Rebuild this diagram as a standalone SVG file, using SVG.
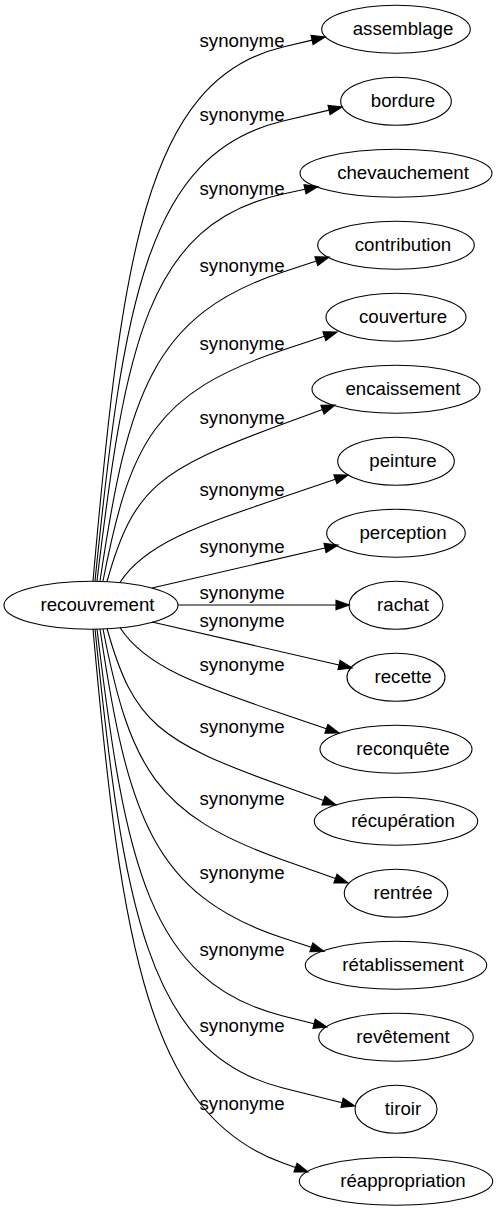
<svg xmlns="http://www.w3.org/2000/svg" width="496" height="1211" viewBox="0 0 496 1211">
<style>
.n ellipse{fill:none;stroke:#000;stroke-width:1.1}
.n text{font-family:"Liberation Sans",Arial,sans-serif;font-size:18.67px;fill:#000;text-anchor:middle}
#edges path{fill:none;stroke:#000;stroke-width:1.1}
#edges polygon{fill:#000;stroke:#000;stroke-width:1.1}
#edges text{font-family:"Liberation Sans",Arial,sans-serif;font-size:18.67px;fill:#000;text-anchor:middle}
</style>
<rect width="496" height="1211" fill="#fff"/>
<g id="edges">
<path d="M93,581 C121.5,260.6 144.3,80.1 283,47 L312.1,40.1"/><polygon points="325,37 313.1,44.6 311,35.5"/><text x="242" y="46.5">synonyme</text>
<path d="M95,581 C123.2,305 145.8,153.6 283,121 L329.1,110.1"/><polygon points="342,107 330.1,114.6 328,105.5"/><text x="242" y="121">synonyme</text>
<path d="M97,581 C124.9,348.8 146.6,223.2 283,194 L305,189.3"/><polygon points="318,186.5 306,193.9 304,184.7"/><text x="242" y="194.5">synonyme</text>
<path d="M100,581 C127.5,395.6 152.5,314.5 283,272 L316.4,261.1"/><polygon points="329,257 317.8,265.6 314.9,256.7"/><text x="242" y="272">synonyme</text>
<path d="M103,581 C130,442.4 154.9,392.7 283,350 L324.4,336.2"/><polygon points="337,332 325.9,340.6 322.9,331.8"/><text x="242" y="350">synonyme</text>
<path d="M107,581.5 C133.4,487 159,469.3 283,424 L322.5,409.6"/><polygon points="335,405 324.1,414 320.9,405.2"/><text x="242" y="424">synonyme</text>
<path d="M120,582.5 C144.5,544 198.1,525.8 283,497 L335.4,479.3"/><polygon points="348,475 336.9,483.7 333.9,474.9"/><text x="242" y="496">synonyme</text>
<path d="M152,588 L325,548"/><polygon points="338,545 326.1,552.5 324,543.4"/><text x="242" y="553">synonyme</text>
<path d="M178,605 L336,605"/><polygon points="349.3,605 336,609.7 336,600.3"/><text x="242" y="599">synonyme</text>
<path d="M152,622 L339,665"/><polygon points="352,668 338,669.6 340.1,660.5"/><text x="242" y="627">synonyme</text>
<path d="M120,627.5 C144.5,666.4 198.1,685.2 283,714 L326.4,728.7"/><polygon points="339,733 324.9,733.2 327.9,724.3"/><text x="242" y="671">synonyme</text>
<path d="M107,628.5 C133.4,723 158.8,741.5 283,786 L323.5,800.5"/><polygon points="336,805 321.9,804.9 325.1,796.1"/><text x="242" y="733">synonyme</text>
<path d="M103,629 C130,767.6 155.7,814.9 283,860 L335.5,878.6"/><polygon points="348,883 333.9,883 337,874.2"/><text x="242" y="805">synonyme</text>
<path d="M100,629 C127.5,814.4 152.6,895 283,938 L311.4,947.3"/><polygon points="324,951.5 309.9,951.8 312.8,942.9"/><text x="242" y="879">synonyme</text>
<path d="M97,629 C124.9,861.2 147.7,982.1 283,1016 L314.1,1023.8"/><polygon points="327,1027 313,1028.3 315.2,1019.2"/><text x="242" y="955.5">synonyme</text>
<path d="M95,629 C123.2,904.4 146.2,1053.7 283,1088 L342.1,1102.8"/><polygon points="355,1106 341,1107.3 343.2,1098.2"/><text x="242" y="1032">synonyme</text>
<path d="M93,629 C121.5,949.4 148.9,1114.7 283,1163 L295.5,1167.5"/><polygon points="308,1172 293.9,1171.9 297.1,1163.1"/><text x="242" y="1110">synonyme</text>
</g>
<g id="recouvrement" class="n"><ellipse cx="91" cy="605.3" rx="87" ry="24"/><text x="97.5" y="610.5">recouvrement</text></g>
<g id="assemblage" class="n"><ellipse cx="396" cy="29.3" rx="74.3" ry="24"/><text x="403" y="34.5">assemblage</text></g>
<g id="bordure" class="n"><ellipse cx="396" cy="101.3" rx="55.3" ry="24"/><text x="403" y="106.5">bordure</text></g>
<g id="chevauchement" class="n"><ellipse cx="396" cy="173.3" rx="96" ry="24"/><text x="403" y="178.5">chevauchement</text></g>
<g id="contribution" class="n"><ellipse cx="396" cy="245.3" rx="78.3" ry="24"/><text x="403" y="250.5">contribution</text></g>
<g id="couverture" class="n"><ellipse cx="396" cy="317.3" rx="70" ry="24"/><text x="403" y="322.5">couverture</text></g>
<g id="encaissement" class="n"><ellipse cx="396" cy="389.3" rx="84" ry="24"/><text x="403" y="394.5">encaissement</text></g>
<g id="peinture" class="n"><ellipse cx="396" cy="461.3" rx="58.3" ry="24"/><text x="403" y="466.5">peinture</text></g>
<g id="perception" class="n"><ellipse cx="396" cy="533.3" rx="69.3" ry="24"/><text x="403" y="538.5">perception</text></g>
<g id="rachat" class="n"><ellipse cx="396" cy="605.3" rx="47" ry="24"/><text x="403" y="610.5">rachat</text></g>
<g id="recette" class="n"><ellipse cx="396" cy="677.3" rx="49" ry="24"/><text x="403" y="682.5">recette</text></g>
<g id="reconquete" class="n"><ellipse cx="396" cy="749.3" rx="76" ry="24"/><text x="403" y="754.5">reconquête</text></g>
<g id="recuperation" class="n"><ellipse cx="396" cy="821.3" rx="81.7" ry="24"/><text x="403" y="826.5">récupération</text></g>
<g id="rentree" class="n"><ellipse cx="396" cy="893.3" rx="51.7" ry="24"/><text x="403" y="898.5">rentrée</text></g>
<g id="retablissement" class="n"><ellipse cx="396" cy="965.3" rx="90.7" ry="24"/><text x="403" y="970.5">rétablissement</text></g>
<g id="revetement" class="n"><ellipse cx="396" cy="1037.3" rx="77.3" ry="24"/><text x="403" y="1042.5">revêtement</text></g>
<g id="tiroir" class="n"><ellipse cx="396" cy="1109.3" rx="41" ry="24"/><text x="403" y="1114.5">tiroir</text></g>
<g id="reappropriation" class="n"><ellipse cx="396" cy="1181.3" rx="96.7" ry="24"/><text x="403" y="1186.5">réappropriation</text></g>
</svg>
